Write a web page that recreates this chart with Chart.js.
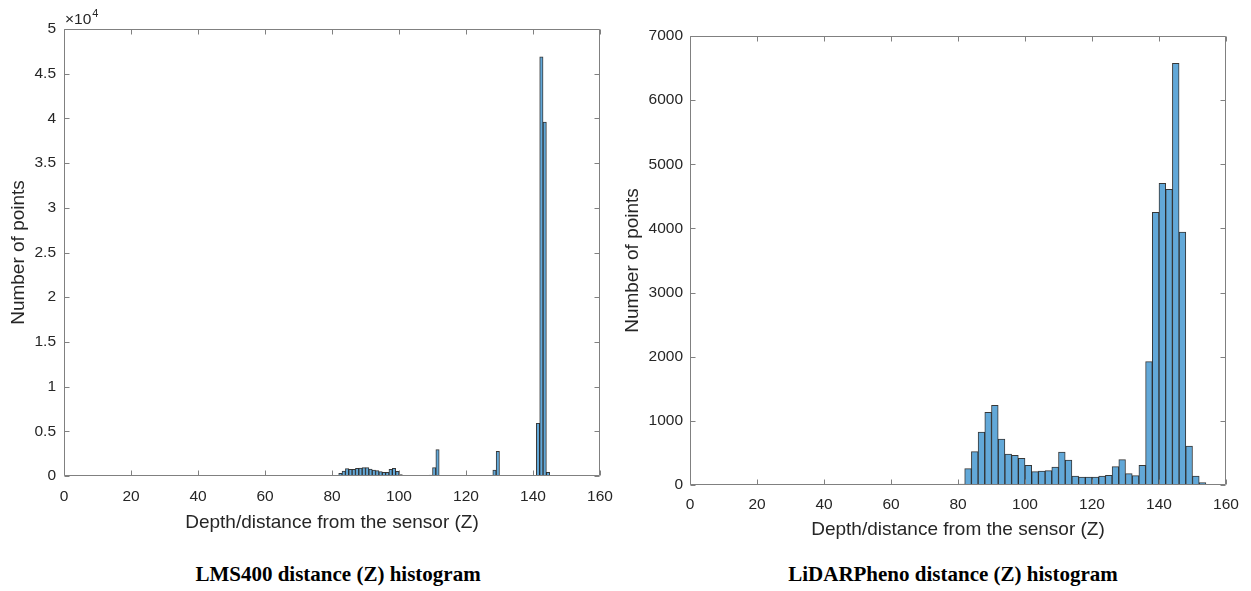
<!DOCTYPE html>
<html>
<head>
<meta charset="utf-8">
<script src="https://cdn.jsdelivr.net/npm/chart.js@4/dist/chart.umd.min.js"></script>
<style>
  body { margin: 0; background: #fff; width: 1251px; height: 591px; position: relative; overflow: hidden; }
  canvas { position: absolute; top: 0; }
  .caption {
    position: absolute; transform: translateX(-50%); white-space: nowrap;
    font-family: "Liberation Serif", "Times New Roman", serif; font-weight: bold;
    font-size: 21px; line-height: 24px; color: #000;
  }
</style>
</head>
<body>
<canvas id="lms" width="616" height="545" style="left:0"></canvas>
<canvas id="pheno" width="634" height="554" style="left:612px"></canvas>
<div class="caption" style="left:338px; top:562px">LMS400 distance (Z) histogram</div>
<div class="caption" style="left:953px; top:562px">LiDARPheno distance (Z) histogram</div>
<script>
// LMS400: 1-unit bins, centres
const lmsBins = [
  82.5, 83.5, 84.5, 85.5, 86.5, 87.5, 88.5, 89.5, 90.5, 91.5,
  92.5, 93.5, 94.5, 95.5, 96.5, 97.5, 98.5, 99.5, 100.5, 101.5,
  102.5, 103.5, 104.5, 105.5, 106.5, 107.5, 108.5, 109.5, 110.5, 111.5,
  112.5, 113.5, 114.5, 115.5, 116.5, 117.5, 118.5, 119.5, 120.5, 121.5,
  122.5, 123.5, 124.5, 125.5, 126.5, 127.5, 128.5, 129.5, 130.5, 131.5,
  132.5, 133.5, 134.5, 135.5, 136.5, 137.5, 138.5, 139.5, 140.5, 141.5,
  142.5, 143.5, 144.5
];
const lmsCounts = [
  298, 560, 820, 746, 746, 858, 895, 932, 932, 783,
  671, 597, 485, 410, 410, 746, 858, 522, 149, 75,
  45, 30, 25, 40, 60, 35, 30, 110, 932, 2946,
  40, 20, 15, 15, 15, 15, 15, 20, 20, 20,
  20, 25, 25, 25, 30, 60, 671, 2760, 40, 20,
  15, 15, 15, 15, 15, 20, 20, 30, 80, 5900,
  46900, 39600, 410
];

// LiDARPheno: 2-unit bins, centres
const phenoBins = [
  81, 83, 85, 87, 89, 91, 93, 95, 97, 99,
  101, 103, 105, 107, 109, 111, 113, 115, 117, 119,
  121, 123, 125, 127, 129, 131, 133, 135, 137, 139,
  141, 143, 145, 147, 149, 151, 153, 155
];
const phenoCounts = [
  15, 255, 520, 826, 1133, 1242, 717, 483, 463, 416,
  307, 208, 218, 224, 281, 515, 390, 140, 125, 125,
  125, 140, 151, 286, 395, 177, 146, 307, 1923, 4251,
  4703, 4610, 6574, 3945, 608, 140, 36, 10
];

const xTicks = [0, 20, 40, 60, 80, 100, 120, 140, 160];
const lmsMax = 50000, lmsStep = 5000;
const phenoMax = 7000, phenoStep = 1000;

const BAR_FILL = '#62a8d8';
const BAR_EDGE = 'rgba(20,20,20,0.85)';
const AXIS = '#808080';
const TEXT = '#262626';
const TICK_SIZE = 15.5;

Chart.defaults.font.family = '"Liberation Sans", Arial, sans-serif';
Chart.defaults.color = TEXT;

// box round the plot area with inward ticks on all four sides, plus the x10^n note
const frameTicks = {
  id: 'frameTicks',
  afterDatasetsDraw(chart, args, opts) {
    const { ctx, chartArea: a, scales: { x, y } } = chart;
    const L = Math.round(a.left) + 0.5, R = Math.round(a.right) - 0.5;
    const T = Math.round(a.top) + 0.5, B = Math.round(a.bottom) - 0.5;
    ctx.save();
    ctx.strokeStyle = AXIS;
    ctx.lineWidth = 1;
    ctx.beginPath();
    ctx.rect(L, T, R - L, B - T);
    for (const t of x.ticks) {
      const p = Math.round(x.getPixelForValue(t.value)) + 0.5;
      ctx.moveTo(p, B); ctx.lineTo(p, B - 5);
      ctx.moveTo(p, T); ctx.lineTo(p, T + 5);
    }
    for (const t of y.ticks) {
      const p = Math.round(y.getPixelForValue(t.value)) + 0.5;
      ctx.moveTo(L, p); ctx.lineTo(L + 5, p);
      ctx.moveTo(R, p); ctx.lineTo(R - 5, p);
    }
    ctx.stroke();
    if (opts.exponent) {
      ctx.fillStyle = TEXT;
      ctx.textBaseline = 'alphabetic';
      ctx.font = TICK_SIZE + 'px "Liberation Sans", Arial, sans-serif';
      const base = '\u00d710';
      ctx.fillText(base, a.left + 1, a.top - 5);
      const w = ctx.measureText(base).width;
      ctx.font = '11px "Liberation Sans", Arial, sans-serif';
      ctx.fillText(opts.exponent, a.left + 1 + w + 1, a.top - 12);
    }
    ctx.restore();
  }
};

function histogram(id, bins, counts, yMax, yStep, box) {
  const el = document.getElementById(id);
  return new Chart(el, {
    type: 'bar',
    data: {
      datasets: [{
        data: bins.map((b, i) => ({ x: b, y: counts[i] })),
        backgroundColor: BAR_FILL,
        borderColor: BAR_EDGE,
        borderWidth: 1,
        barPercentage: 1,
        categoryPercentage: 1
      }]
    },
    options: {
      responsive: false,
      animation: false,
      events: [],
      layout: { padding: { top: box.top, right: box.right, left: 0, bottom: 0 } },
      plugins: {
        legend: { display: false },
        tooltip: { enabled: false },
        frameTicks: { exponent: box.exponent }
      },
      scales: {
        x: {
          type: 'linear',
          offset: false,
          min: 0, max: 160,
          afterBuildTicks: s => { s.ticks = xTicks.map(v => ({ value: v })); },
          grid: { display: false, drawTicks: false },
          border: { display: false },
          ticks: { font: { size: TICK_SIZE }, padding: box.xTickPad, maxRotation: 0, autoSkip: false },
          title: {
            display: true, text: 'Depth/distance from the sensor (Z)',
            font: { size: 19 }, padding: { top: 0, bottom: box.xTitlePad }
          },
          afterFit: s => {
            s.height = box.xHeight;
            s.paddingLeft = 0;
            s.paddingRight = 0;
          }
        },
        y: {
          min: 0, max: yMax,
          ticks: {
            stepSize: yStep, font: { size: TICK_SIZE }, padding: box.yTickPad,
            callback: v => box.exponent ? String(v / 10000) : String(v)
          },
          grid: { display: false, drawTicks: false },
          border: { display: false },
          title: {
            display: true, text: 'Number of points',
            font: { size: 19 }, padding: { top: box.yTitlePad, bottom: 0 }
          },
          afterFit: s => {
            s.width = box.yWidth;
            s.paddingTop = 0;
            s.paddingBottom = 0;
          }
        }
      }
    },
    plugins: [frameTicks]
  });
}

histogram('lms', lmsBins, lmsCounts, lmsMax, lmsStep, {
  top: 29, right: 16, yWidth: 64, xHeight: 69,
  xTickPad: 11, xTitlePad: 11, yTickPad: 8, yTitlePad: 7, exponent: '4'
});
histogram('pheno', phenoBins, phenoCounts, phenoMax, phenoStep, {
  top: 36, right: 20, yWidth: 78, xHeight: 69,
  xTickPad: 10, xTitlePad: 13, yTickPad: 7, yTitlePad: 9
});
</script>
</body>
</html>
